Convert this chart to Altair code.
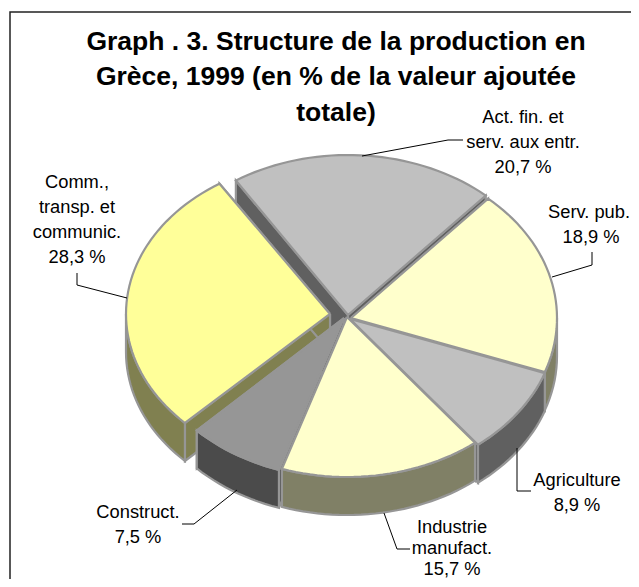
import math
import altair as alt
import pandas as pd

W, H = 623, 571
PAGE = 8

# ---- data (clockwise from Act. fin.)
names = ["Act. fin. et serv. aux entr.", "Serv. pub.", "Agriculture",
         "Industrie manufact.", "Construct.", "Comm., transp. et communic."]
shares = [20.7, 18.9, 8.9, 15.7, 7.5, 28.3]
top_colors = ["#C0C0C0", "#FFFFCC", "#C0C0C0", "#FFFFCC", "#969696", "#FFFF99"]
wall_colors = ["#606060", "#808066", "#606060", "#808066", "#4B4B4B", "#808050"]

# ---- pie layout
start_angle = -32.8
rx = [207, 206, 207, 207, 207, 204]
ry = [160, 160, 160, 160, 160, 155]
depth = 38
apex_x = [348, 351, 350, 347, 344, 330]
apex_y = [315, 318, 319, 317, 318, 314]
paint_order = [0, 5, 1, 2, 4, 3]
outline = "#969696"

title_lines = ["Graph . 3. Structure de la production en",
               "Grèce, 1999 (en % de la valeur ajoutée",
               "totale)"]
title_y = [42, 77, 113]
label_lines = ["Comm.,", "transp. et", "communic.", "28,3 %",
               "Act. fin. et", "serv. aux entr.", "20,7 %",
               "Serv. pub.", "18,9 %",
               "Agriculture", "8,9 %",
               "Industrie", "manufact.", "15,7 %",
               "Construct.", "7,5 %"]
label_x = [77, 77, 77, 77, 523, 523, 523, 589, 591, 577, 577, 452, 452, 452, 138, 138]
label_y = [183, 208, 233, 258, 118, 143, 168, 213, 238, 481, 506, 528, 549, 570, 513, 538]

leaders = [[(77, 273), (77, 285), (127, 298)],
           [(362, 156), (448, 140), (463, 140)],
           [(592, 252), (592, 265), (552, 277)],
           [(517, 448), (517, 491), (531, 491)],
           [(384, 513), (397, 549), (410, 549)],
           [(237, 490), (194, 524), (182, 524)]]
frame_x = [10, 10, 631]
frame_y = [579, 12, 12]

xs = alt.Scale(domain=[PAGE, PAGE + W], range=[0, W], nice=False, zero=False)
ys = alt.Scale(domain=[PAGE, PAGE + H], range=[0, H], nice=False, zero=False)
X = lambda f: alt.X(f, type="quantitative", scale=xs, axis=None)
Y = lambda f: alt.Y(f, type="quantitative", scale=ys, axis=None)


def point(i, ang):
    t = math.radians(ang)
    return apex_x[i] + rx[i] * math.sin(t), apex_y[i] - ry[i] * math.cos(t)


def arc(i, a0, a1, step=2.0):
    n = max(2, int(abs(a1 - a0) / step) + 1)
    return [point(i, a0 + (a1 - a0) * k / (n - 1)) for k in range(n)]


def spans(poly):
    rows = []
    edges = list(zip(poly, poly[1:] + poly[:1]))
    for x in sorted({p[0] for p in poly}):
        hits = []
        for (px, py), (qx, qy) in edges:
            if min(px, qx) <= x <= max(px, qx):
                if px == qx:
                    hits += [py, qy]
                else:
                    hits.append(py + (qy - py) * (x - px) / (qx - px))
        rows.append({"x": x, "y": min(hits), "y2": max(hits)})
    return pd.DataFrame(rows)


def draw(poly, fill, stroke=outline, sw=2.2):
    area = alt.Chart(spans(poly)).mark_area(fill=fill, opacity=1, stroke=None).encode(
        x=X("x"), y=Y("y"), y2="y2")
    ring = poly + poly[:1]
    df = pd.DataFrame({"x": [p[0] for p in ring], "y": [p[1] for p in ring],
                       "i": list(range(len(ring)))})
    line = alt.Chart(df).mark_line(color=stroke, strokeWidth=sw, strokeJoin="miter").encode(
        x=X("x"), y=Y("y"), order="i:Q")
    return [area, line]


def down(pts):
    return [(x, y + depth) for x, y in pts]


bounds = [start_angle]
for s in shares:
    bounds.append(bounds[-1] + s * 3.6)

layers = []
for i in paint_order:
    a0, a1 = bounds[i], bounds[i + 1]
    apex = (apex_x[i], apex_y[i])
    c0, c1 = point(i, a0), point(i, a1)
    # cut faces
    for c, a in ((c0, a0), (c1, a1)):
        layers += draw([apex, c, (c[0], c[1] + depth), (apex[0], apex[1] + depth)], wall_colors[i])
    # outer wall: front half only
    lo, hi = max(a0, 90), min(a1, 270)
    if hi > lo:
        pts = arc(i, lo, hi)
        layers += draw(pts + down(pts)[::-1], wall_colors[i])
    # top face
    layers += draw([apex] + arc(i, a0, a1), top_colors[i])

for leader in leaders:
    df = pd.DataFrame({"x": [p[0] for p in leader], "y": [p[1] for p in leader],
                       "i": list(range(len(leader)))})
    layers.append(alt.Chart(df).mark_line(color="#000000", strokeWidth=1).encode(
        x=X("x"), y=Y("y"), order="i:Q"))

frame = pd.DataFrame({"x": frame_x, "y": frame_y, "i": [0, 1, 2]})
layers.insert(0, alt.Chart(frame).mark_line(color="#222222", strokeWidth=1.5).encode(
    x=X("x"), y=Y("y"), order="i:Q"))

tdf = pd.DataFrame({"x": [336] * 3, "y": title_y, "t": title_lines})
layers.append(alt.Chart(tdf).mark_text(font="Liberation Sans", fontWeight="bold", fontSize=26.5,
                                       align="center", baseline="middle", color="#000000").encode(
    x=X("x"), y=Y("y"), text="t:N"))
ldf = pd.DataFrame({"x": label_x, "y": label_y, "t": label_lines})
layers.append(alt.Chart(ldf).mark_text(font="Liberation Sans", fontSize=18.3,
                                       align="center", baseline="middle", color="#000000").encode(
    x=X("x"), y=Y("y"), text="t:N"))

chart = alt.layer(*layers).properties(
    width=W, height=H, padding=0, autosize=alt.AutoSizeParams(type="none"),
    background="#FFFFFF"
).configure_view(stroke=None)

chart.save("out.html", embed_options={"renderer": "svg", "actions": False})
